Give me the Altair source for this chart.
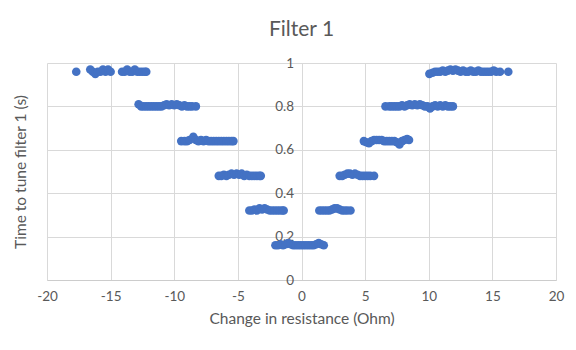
import altair as alt
import pandas as pd

# Cluster data (x = change in resistance, y = time)
x_096_left = [-17.7, -16.6, -16.4, -16.2, -16.0, -15.8, -15.6, -15.4, -15.2, -15.0,
              -14.1, -13.9, -13.7, -13.5, -13.3, -13.1, -12.9, -12.7, -12.5, -12.3, -12.2]
y_096_left = [0.96, 0.97, 0.96, 0.95, 0.96, 0.96, 0.97, 0.96, 0.97, 0.96,
              0.96, 0.96, 0.97, 0.96, 0.96, 0.97, 0.96, 0.96, 0.96, 0.96, 0.96]

x_080_left = [-12.8, -12.6, -12.4, -12.2, -12.0, -11.8, -11.6, -11.4, -11.2, -11.0, -10.8, -10.6,
              -10.4, -10.2, -10.0, -9.8, -9.6, -9.4, -9.2, -9.0, -8.8, -8.6, -8.3]
y_080_left = [0.81, 0.80, 0.80, 0.80, 0.80, 0.80, 0.80, 0.80, 0.80, 0.80, 0.805, 0.81,
              0.805, 0.81, 0.805, 0.81, 0.805, 0.80, 0.805, 0.80, 0.80, 0.80, 0.80]

x_064_left = [-9.45, -9.2, -9.0, -8.8, -8.5, -8.3, -8.1, -7.9, -7.7, -7.5, -7.3, -7.1,
              -6.9, -6.7, -6.5, -6.3, -6.1, -5.9, -5.7, -5.5, -5.35]
y_064_left = [0.64, 0.64, 0.64, 0.645, 0.66, 0.645, 0.64, 0.645, 0.64, 0.645, 0.64, 0.64,
              0.64, 0.64, 0.64, 0.64, 0.64, 0.64, 0.64, 0.64, 0.64]

x_048_left = [-6.5, -6.3, -6.1, -5.9, -5.7, -5.5, -5.3, -5.1, -4.9, -4.7, -4.5, -4.3,
              -4.1, -3.9, -3.7, -3.5, -3.3, -3.2]
y_048_left = [0.48, 0.48, 0.485, 0.48, 0.485, 0.49, 0.485, 0.49, 0.485, 0.49, 0.48, 0.485,
              0.48, 0.48, 0.48, 0.48, 0.48, 0.48]

x_032_left = [-4.1, -3.9, -3.7, -3.5, -3.3, -3.1, -2.9, -2.7, -2.5, -2.3, -2.1, -1.9,
              -1.7, -1.5, -1.4]
y_032_left = [0.32, 0.32, 0.325, 0.32, 0.33, 0.325, 0.33, 0.325, 0.32, 0.32, 0.32, 0.32,
              0.32, 0.32, 0.32]

x_016 = [-2.05, -1.85, -1.65, -1.45, -1.25, -1.05, -0.85, -0.65, -0.45, -0.25, -0.05,
         0.15, 0.35, 0.55, 0.75, 0.95, 1.15, 1.35, 1.55, 1.75]
y_016 = [0.16, 0.16, 0.165, 0.16, 0.165, 0.17, 0.165, 0.16, 0.16, 0.16, 0.16,
         0.16, 0.16, 0.16, 0.16, 0.16, 0.165, 0.17, 0.165, 0.16]

x_032_right = [1.4, 1.6, 1.8, 2.0, 2.2, 2.4, 2.6, 2.8, 3.0, 3.2, 3.4, 3.6, 3.85]
y_032_right = [0.32, 0.32, 0.32, 0.32, 0.32, 0.325, 0.33, 0.33, 0.325, 0.32, 0.32, 0.32, 0.32]

x_048_right = [3.0, 3.2, 3.4, 3.6, 3.8, 4.0, 4.2, 4.4, 4.6, 4.8, 5.0, 5.2, 5.4, 5.7]
y_048_right = [0.48, 0.48, 0.485, 0.49, 0.49, 0.485, 0.49, 0.485, 0.48, 0.48, 0.48, 0.48, 0.48, 0.48]

x_064_right = [4.9, 5.1, 5.3, 5.5, 5.7, 5.9, 6.1, 6.3, 6.5, 6.7, 6.9, 7.1, 7.3, 7.5,
               7.7, 7.9, 8.1, 8.3, 8.45]
y_064_right = [0.64, 0.635, 0.63, 0.64, 0.645, 0.645, 0.645, 0.645, 0.64, 0.64, 0.64, 0.64, 0.64, 0.635,
               0.625, 0.64, 0.645, 0.65, 0.645]

x_080_right = [6.6, 6.9, 7.1, 7.3, 7.5, 7.7, 7.9, 8.1, 8.3, 8.5, 8.7, 8.9, 9.1, 9.3,
               9.5, 9.7, 9.9, 10.1, 10.3, 10.5, 10.7, 10.9, 11.1, 11.3, 11.5, 11.7, 11.9]
y_080_right = [0.80, 0.80, 0.80, 0.80, 0.80, 0.80, 0.805, 0.80, 0.805, 0.81, 0.805, 0.81, 0.805, 0.81,
               0.805, 0.80, 0.80, 0.79, 0.80, 0.805, 0.80, 0.805, 0.80, 0.805, 0.80, 0.80, 0.80]

x_096_right = [10.05, 10.3, 10.5, 10.7, 10.9, 11.1, 11.3, 11.5, 11.7, 11.9, 12.1, 12.3, 12.5,
               12.7, 12.9, 13.1, 13.3, 13.5, 13.7, 13.9, 14.1, 14.3, 14.5, 14.7, 14.9, 15.1,
               15.3, 15.6, 16.25]
y_096_right = [0.95, 0.955, 0.96, 0.96, 0.96, 0.965, 0.96, 0.965, 0.97, 0.965, 0.97, 0.965, 0.96,
               0.965, 0.96, 0.96, 0.965, 0.96, 0.96, 0.965, 0.96, 0.96, 0.96, 0.96, 0.96, 0.965,
               0.96, 0.96, 0.96]

x_ticks = [-20, -15, -10, -5, 0, 5, 10, 15, 20]
y_ticks = [0, 0.2, 0.4, 0.6, 0.8, 1]

xs = (x_096_left + x_080_left + x_064_left + x_048_left + x_032_left + x_016 +
      x_032_right + x_048_right + x_064_right + x_080_right + x_096_right)
ys = (y_096_left + y_080_left + y_064_left + y_048_left + y_032_left + y_016 +
      y_032_right + y_048_right + y_064_right + y_080_right + y_096_right)
df = pd.DataFrame({"dr": xs, "t": ys})

W, H = 509, 217
FONT = "Lato"
TXT = "#595959"

chart = alt.Chart(df).mark_circle(size=74, color="#4472C4", opacity=1).encode(
    x=alt.X("dr:Q",
            scale=alt.Scale(domain=[-20, 20], nice=False, zero=False),
            axis=alt.Axis(values=x_ticks, labelExpr="datum.value + ''",
                          title="Change in resistance (Ohm)",
                          ticks=False, domain=True, domainColor="#cccccc",
                          grid=True, gridColor="#d9d9d9",
                          labelPadding=9, titlePadding=9, labelFlush=False)),
    y=alt.Y("t:Q",
            scale=alt.Scale(domain=[0, 1], nice=False),
            axis=alt.Axis(values=y_ticks, format="~g", title="Time to tune filter 1 (s)",
                          ticks=False, domain=False,
                          grid=True, gridColor="#d9d9d9",
                          offset=-W / 2, labelPadding=8,
                          titleX=-281.5, titleY=H / 2, titleAngle=270,
                          titleBaseline="middle", titleAlign="center")),
).properties(
    width=W, height=H,
    title=alt.TitleParams("Filter 1", fontSize=21, color=TXT, font=FONT,
                          fontWeight="normal", anchor="middle", offset=16),
    autosize=alt.AutoSizeParams(type="none"),
    padding={"left": 39, "top": 55, "right": 12, "bottom": 62},
).configure_view(stroke=None).configure_axis(
    labelFont=FONT, titleFont=FONT, labelColor=TXT, titleColor=TXT,
    labelFontSize=13.5, titleFontSize=15.5, titleFontWeight="normal",
)

chart.save("out.html", embed_options={"renderer": "svg", "actions": False})
